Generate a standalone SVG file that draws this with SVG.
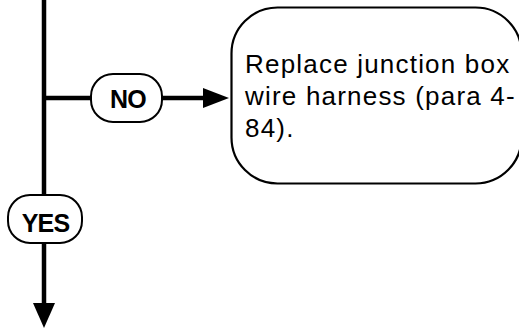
<svg xmlns="http://www.w3.org/2000/svg" width="519" height="329" viewBox="0 0 519 329">
  <style>
    .ln { stroke:#000; stroke-width:4.5; fill:none; }
    .pill { fill:#fff; stroke:#000; stroke-width:2; }
    .lbl { font-family:"Liberation Sans", Arial, sans-serif; font-weight:bold; font-size:25px; text-anchor:middle; fill:#000; letter-spacing:-0.8px; }
    .box { fill:#fff; stroke:#000; stroke-width:2.2; }
    .txt { font-family:"Liberation Sans", Arial, sans-serif; font-size:26px; fill:#000; letter-spacing:1.2px; }
  </style>
  <rect width="519" height="329" fill="#fff"/>
  <g id="connectors">
    <line class="ln" x1="44" y1="0" x2="44" y2="196"/>
    <line class="ln" x1="44" y1="242" x2="44" y2="305"/>
    <polygon points="33,303 55,303 44,328" fill="#000"/>
    <line class="ln" x1="42" y1="98" x2="92" y2="98"/>
    <line class="ln" x1="161" y1="98" x2="205" y2="98"/>
    <polygon points="203,88 203,108 229,98" fill="#000"/>
  </g>
  <g id="no-label">
    <rect class="pill" x="91" y="74" width="71" height="48" rx="22" ry="22"/>
    <text class="lbl" x="128" y="108">NO</text>
  </g>
  <g id="yes-label">
    <rect class="pill" x="8" y="195" width="74" height="48" rx="22" ry="22"/>
    <text class="lbl" x="45.5" y="231.5">YES</text>
  </g>
  <g id="replace-box">
    <rect class="box" x="231.5" y="7.5" width="290" height="176" rx="46" ry="46"/>
    <text class="txt" x="245" y="73">Replace junction box</text>
    <text class="txt" x="245" y="105">wire harness (para 4-</text>
    <text class="txt" x="245" y="137">84).</text>
  </g>
</svg>
